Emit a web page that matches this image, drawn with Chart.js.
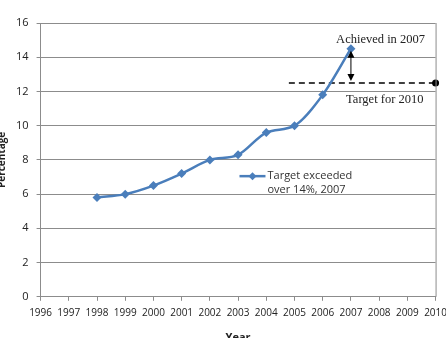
<!DOCTYPE html>
<html>
<head>
<meta charset="utf-8">
<script src="https://cdn.jsdelivr.net/npm/chart.js@4/dist/chart.umd.min.js"></script>
<style>
  html, body { margin: 0; padding: 0; background: #fff; overflow: hidden; }
  body { width: 446px; height: 338px; position: relative; }
  #wrap { position: absolute; left: -4px; top: 0; width: 457px; height: 348px; }
</style>
</head>
<body>
<div id="wrap"><canvas id="lineChart"></canvas></div>
<script>
const years = [1998, 1999, 2000, 2001, 2002, 2003, 2004, 2005, 2006, 2007];
const share = [5.8, 6.0, 6.5, 7.2, 8.0, 8.3, 9.6, 10.0, 11.8, 14.5];
const targetYears = [2004.8, 2010];
const targetValue = 12.5;
const legendText = ['Target exceeded', 'over 14%, 2007'];
const achievedText = 'Achieved in 2007';
const targetText = 'Target for 2010';

const blue = '#4a7ebb';
const gridGrey = '#8c8c8c';

// extra bits: right border, arrow, notes, legend box
const extras = {
  id: 'extras',
  afterDatasetsDraw(chart) {
    const { ctx, chartArea, scales: { x, y } } = chart;
    ctx.save();
    ctx.strokeStyle = gridGrey;
    ctx.lineWidth = 1;
    ctx.beginPath();
    ctx.moveTo(chartArea.right + 0.5, chartArea.top);
    ctx.lineTo(chartArea.right + 0.5, chartArea.bottom);
    ctx.stroke();

    // double arrow between achieved and target
    const ax = x.getPixelForValue(2007);
    const top = y.getPixelForValue(share[share.length - 1]) + 2;
    const bot = y.getPixelForValue(targetValue) - 2;
    ctx.strokeStyle = '#000';
    ctx.fillStyle = '#000';
    ctx.lineWidth = 1;
    ctx.beginPath();
    ctx.moveTo(ax, top + 5);
    ctx.lineTo(ax, bot - 5);
    ctx.stroke();
    ctx.beginPath();
    ctx.moveTo(ax, top); ctx.lineTo(ax - 3.5, top + 7); ctx.lineTo(ax + 3.5, top + 7); ctx.closePath();
    ctx.fill();
    ctx.beginPath();
    ctx.moveTo(ax, bot); ctx.lineTo(ax - 3.5, bot - 7); ctx.lineTo(ax + 3.5, bot - 7); ctx.closePath();
    ctx.fill();

    ctx.font = '12.5px "Liberation Serif", serif';
    ctx.textAlign = 'center';
    ctx.textBaseline = 'middle';
    ctx.fillStyle = '#222';
    ctx.fillText(achievedText, x.getPixelForValue(2008.05), y.getPixelForValue(15.05));
    ctx.fillText(targetText, x.getPixelForValue(2008.2), y.getPixelForValue(11.5));

    // legend inside the plot
    const lx = x.getPixelForValue(2003.05);
    const ly = y.getPixelForValue(7.05);
    ctx.strokeStyle = blue;
    ctx.lineWidth = 2.5;
    ctx.beginPath();
    ctx.moveTo(lx, ly);
    ctx.lineTo(lx + 26, ly);
    ctx.stroke();
    ctx.fillStyle = blue;
    ctx.beginPath();
    ctx.moveTo(lx + 13, ly - 4); ctx.lineTo(lx + 17, ly); ctx.lineTo(lx + 13, ly + 4); ctx.lineTo(lx + 9, ly);
    ctx.closePath();
    ctx.fill();
    ctx.font = '11px "Open Sans", sans-serif';
    ctx.textAlign = 'left';
    ctx.fillStyle = '#333';
    ctx.fillText(legendText[0], lx + 28, ly);
    ctx.fillText(legendText[1], lx + 28, ly + 14);
    ctx.restore();
  }
};

new Chart(document.querySelector('#lineChart'), {
  type: 'line',
  data: {
    datasets: [{
      label: legendText.join(' '),
      data: years.map((yr, i) => ({ x: yr, y: share[i] })),
      borderColor: blue,
      backgroundColor: blue,
      borderWidth: 2.5,
      pointStyle: 'rectRot',
      pointRadius: 4.5,
      pointBackgroundColor: blue,
      pointBorderWidth: 0,
      cubicInterpolationMode: 'monotone',
      tension: 0.3
    }, {
      label: 'Target',
      data: targetYears.map(yr => ({ x: yr, y: targetValue })),
      borderColor: '#000',
      borderWidth: 1.5,
      borderDash: [6, 4],
      pointRadius: [0, 3.5],
      pointBackgroundColor: '#000',
      pointBorderWidth: 0,
      clip: false
    }]
  },
  options: {
    responsive: true,
    maintainAspectRatio: false,
    animation: false,
    layout: { padding: { top: 23, right: 0, left: 0, bottom: 0 } },
    plugins: { legend: { display: false }, tooltip: { enabled: false } },
    scales: {
      x: {
        type: 'linear',
        min: 1996,
        max: 2010,
        ticks: {
          stepSize: 1,
          autoSkip: false,
          maxRotation: 0,
          padding: 6,
          color: '#222',
          font: { family: 'Open Sans', size: 10 },
          callback: v => String(v)
        },
        grid: { drawOnChartArea: false, drawTicks: true, tickLength: 4, color: gridGrey },
        border: { color: gridGrey },
        title: { display: true, text: 'Year', color: '#222', font: { family: 'Open Sans', size: 11, weight: 'bold' }, padding: { top: 6 } }
      },
      y: {
        min: 0,
        max: 16,
        ticks: {
          stepSize: 2,
          padding: 8,
          color: '#222',
          font: { family: 'Open Sans', size: 11 }
        },
        grid: { color: gridGrey, tickLength: 4 },
        border: { color: gridGrey },
        title: { display: true, text: 'Percentage', color: '#222', font: { family: 'Open Sans', size: 10, weight: 'bold' }, padding: 0 }
      }
    }
  },
  plugins: [extras]
});
</script>
</body>
</html>
